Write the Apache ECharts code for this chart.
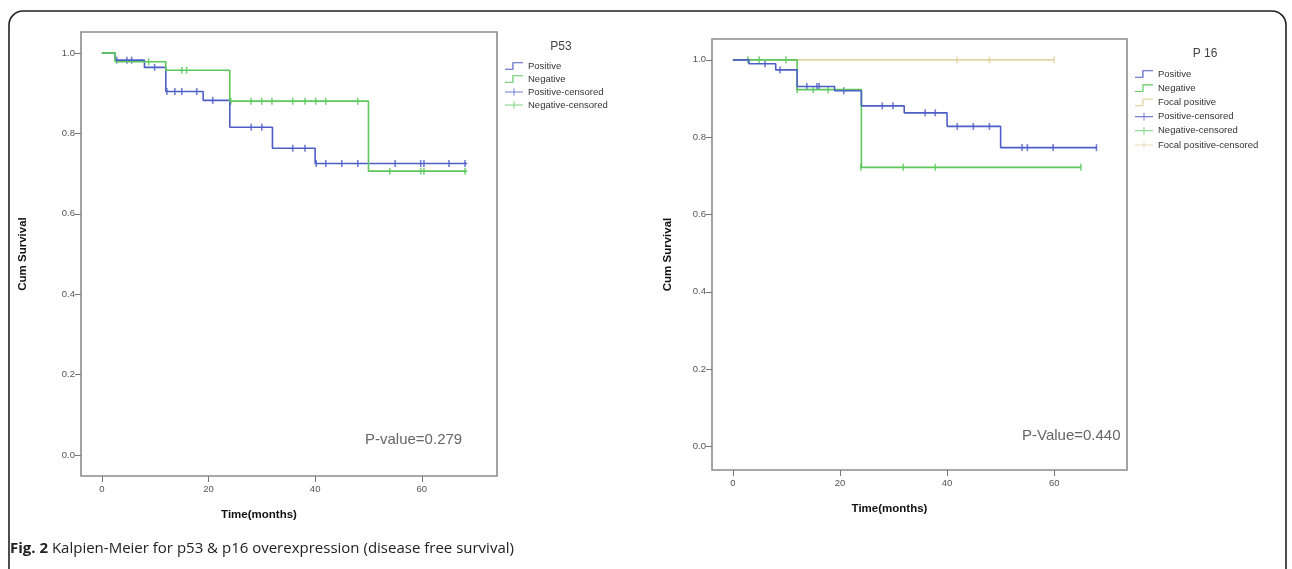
<!DOCTYPE html>
<html><head><meta charset="utf-8">
<script src="https://cdn.jsdelivr.net/npm/echarts@6/dist/echarts.min.js"></script>
<style>html,body{margin:0;padding:0;background:#fff}#c{width:1292px;height:569px}</style>
</head><body><div id="c"></div>
<script>
// ---------- P53 (left panel) ----------
var p53PosTime = [0, 2.5, 8, 12, 19, 24, 32, 40, 68.5];
var p53PosSurv = [1.0, 0.982, 0.964, 0.904, 0.882, 0.815, 0.763, 0.725, 0.725];
var p53NegTime = [0, 2.5, 12, 24, 50, 68.5];
var p53NegSurv = [1.0, 0.978, 0.957, 0.88, 0.706, 0.706];
var p53PosCensTime = [2.8, 4.7, 5.6, 9.9, 12.2, 13.7, 15.0, 17.8, 20.8, 28.0, 30.0, 35.8, 38.1, 40.2, 42.0, 45.0, 48.0, 55.0, 59.8, 60.4, 65.1, 68.1];
var p53PosCensSurv = [0.982, 0.982, 0.982, 0.964, 0.904, 0.904, 0.904, 0.904, 0.882, 0.815, 0.815, 0.763, 0.763, 0.725, 0.725, 0.725, 0.725, 0.725, 0.725, 0.725, 0.725, 0.725];
var p53NegCensTime = [8.8, 15.0, 15.9, 24.2, 28.0, 30.0, 31.9, 35.8, 38.1, 40.1, 42.0, 48.0, 54.0, 59.8, 60.4, 68.1];
var p53NegCensSurv = [0.978, 0.957, 0.957, 0.88, 0.88, 0.88, 0.88, 0.88, 0.88, 0.88, 0.88, 0.88, 0.706, 0.706, 0.706, 0.706];

// ---------- P16 (right panel) ----------
var p16PosTime = [0, 3, 8, 12, 19, 24, 32, 40, 50, 68];
var p16PosSurv = [1.0, 0.99, 0.974, 0.931, 0.92, 0.881, 0.863, 0.828, 0.773, 0.773];
var p16NegTime = [0, 12, 24, 65];
var p16NegSurv = [1.0, 0.923, 0.722, 0.722];
var p16FocTime = [0, 60];
var p16FocSurv = [1.0, 1.0];
var p16PosCensTime = [6.0, 8.8, 12.0, 13.8, 15.7, 16.1, 20.7, 27.9, 29.9, 35.9, 37.8, 41.9, 44.9, 47.9, 54.0, 55.0, 59.8, 67.9];
var p16PosCensSurv = [0.99, 0.974, 0.931, 0.931, 0.931, 0.931, 0.92, 0.881, 0.881, 0.863, 0.863, 0.828, 0.828, 0.828, 0.773, 0.773, 0.773, 0.773];
var p16NegCensTime = [2.8, 4.9, 9.9, 12.0, 15.0, 17.8, 23.9, 31.8, 37.8, 65];
var p16NegCensSurv = [1.0, 1.0, 1.0, 0.923, 0.923, 0.923, 0.722, 0.722, 0.722, 0.722];
var p16FocCensTime = [41.9, 47.9, 60];
var p16FocCensSurv = [1.0, 1.0, 1.0];

// ---------- tick labels ----------
var yTicks = [0, 0.2, 0.4, 0.6, 0.8, 1.0];
var xTicks = [0, 20, 40, 60];

var BLUE = '#4d5ec6', GREEN = '#5cc85c', TAN = '#e0d4a4';
var FONT = 'Liberation Sans, Arial, sans-serif';

function zip(a, b) { return a.map(function (v, i) { return [v, b[i]]; }); }

var stepIcon = 'path://M0,8 L9,8 L9,0 L22,0 L22,1.4 L10.4,1.4 L10.4,9.4 L0,9.4 Z';
var plusIcon = 'path://M0,4 L22,4 L22,5.4 L0,5.4 Z M10.4,0 L11.6,0 L11.6,9.4 L10.4,9.4 Z';

function xAxisCfg(gi, min, max) {
  return {
    type: 'value', gridIndex: gi, min: min, max: max, position: 'bottom',
    name: 'Time(months)', nameLocation: 'middle', nameGap: 33,
    nameTextStyle: { fontFamily: FONT, fontWeight: 'bold', fontSize: 11.5, color: '#111', padding: [0, 60, 0, 0] },
    axisLine: { show: false, onZero: false },
    axisTick: { show: true, length: 6, lineStyle: { color: '#777', width: 1 }, customValues: xTicks },
    axisLabel: { fontFamily: FONT, fontSize: 9.5, color: '#555', margin: 8, customValues: xTicks },
    splitLine: { show: false }
  };
}
function yAxisCfg(gi, min, max, gap) {
  return {
    type: 'value', gridIndex: gi, min: min, max: max, position: 'left',
    name: 'Cum Survival', nameLocation: 'middle', nameGap: gap,
    nameTextStyle: { fontFamily: FONT, fontWeight: 'bold', fontSize: 11.5, color: '#111' },
    axisLine: { show: false, onZero: false },
    axisTick: { show: true, length: 6, lineStyle: { color: '#777', width: 1 }, customValues: yTicks },
    axisLabel: { fontFamily: FONT, fontSize: 9.5, color: '#555', margin: 6, customValues: yTicks,
      formatter: function (v) { return v.toFixed(1); } },
    splitLine: { show: false }
  };
}
function stepSeries(name, t, s, color, idx) {
  return { name: name, type: 'line', step: 'end', xAxisIndex: idx, yAxisIndex: idx,
    data: zip(t, s), showSymbol: false, symbol: 'none', color: color,
    lineStyle: { color: color, width: 1.6 }, itemStyle: { color: color }, silent: true };
}
function censSeries(name, t, s, color, idx) {
  return { name: name, type: 'scatter', xAxisIndex: idx, yAxisIndex: idx,
    data: zip(t, s), symbol: 'rect', symbolSize: [1.6, 7], color: color,
    itemStyle: { color: color }, silent: true };
}

var chart = echarts.init(document.getElementById('c'), null, { renderer: 'canvas' });
chart.setOption({
  animation: false,
  backgroundColor: '#fff',
  grid: [
    { left: 81, top: 32, width: 416, height: 444, show: true, borderColor: '#8c8c8c', borderWidth: 1.6, backgroundColor: '#fff' },
    { left: 712, top: 39, width: 415, height: 431, show: true, borderColor: '#8c8c8c', borderWidth: 1.6, backgroundColor: '#fff' }
  ],
  xAxis: [xAxisCfg(0, -3.9, 74.1), xAxisCfg(1, -3.9, 73.6)],
  yAxis: [yAxisCfg(0, -0.052, 1.052, 52), yAxisCfg(1, -0.061, 1.054, 38)],
  title: [
    { text: 'P53', left: 556, top: 36, textAlign: 'center', textStyle: { fontFamily: FONT, fontSize: 12, fontWeight: 'normal', color: '#444' } },
    { text: 'P 16', left: 1200, top: 43, textAlign: 'center', textStyle: { fontFamily: FONT, fontSize: 12, fontWeight: 'normal', color: '#444' } }
  ],
  legend: [
    { orient: 'vertical', left: 500, top: 56, itemWidth: 18, itemHeight: 9, itemGap: 3, selectedMode: false,
      textStyle: { fontFamily: FONT, fontSize: 9.5, color: '#333', lineHeight: 10 },
      data: [
        { name: 'Positive', icon: stepIcon },
        { name: 'Negative', icon: stepIcon },
        { name: 'Positive-censored', icon: plusIcon },
        { name: 'Negative-censored', icon: plusIcon }
      ] },
    { orient: 'vertical', left: 1130, top: 64, itemWidth: 18, itemHeight: 9, itemGap: 4.2, selectedMode: false,
      textStyle: { fontFamily: FONT, fontSize: 9.5, color: '#333', lineHeight: 10 },
      data: [
        { name: 'Positive', icon: stepIcon },
        { name: 'Negative', icon: stepIcon },
        { name: 'Focal positive', icon: stepIcon },
        { name: 'Positive-censored', icon: plusIcon },
        { name: 'Negative-censored', icon: plusIcon },
        { name: 'Focal positive-censored', icon: plusIcon }
      ] }
  ],
  series: [
    stepSeries('Positive', p53PosTime, p53PosSurv, BLUE, 0),
    stepSeries('Negative', p53NegTime, p53NegSurv, GREEN, 0),
    censSeries('Positive-censored', p53PosCensTime, p53PosCensSurv, BLUE, 0),
    censSeries('Negative-censored', p53NegCensTime, p53NegCensSurv, GREEN, 0),
    stepSeries('Focal positive', p16FocTime, p16FocSurv, TAN, 1),
    stepSeries('Negative', p16NegTime, p16NegSurv, GREEN, 1),
    stepSeries('Positive', p16PosTime, p16PosSurv, BLUE, 1),
    censSeries('Focal positive-censored', p16FocCensTime, p16FocCensSurv, TAN, 1),
    censSeries('Negative-censored', p16NegCensTime, p16NegCensSurv, GREEN, 1),
    censSeries('Positive-censored', p16PosCensTime, p16PosCensSurv, BLUE, 1)
  ],
  graphic: [
    { type: 'rect', silent: true, z: -1, shape: { x: 9, y: 11, width: 1277, height: 640, r: 14 },
      style: { fill: null, stroke: '#222', lineWidth: 1.6 } },
    { type: 'text', left: 365, top: 432, silent: true,
      style: { text: 'P-value=0.279', fontFamily: FONT, fontSize: 15, fill: '#666' } },
    { type: 'text', left: 1022, top: 428, silent: true,
      style: { text: 'P-Value=0.440', fontFamily: FONT, fontSize: 15, fill: '#666' } },
    { type: 'text', left: 10, top: 541, silent: true,
      style: { text: '{b|Fig. 2} Kalpien-Meier for p53 & p16 overexpression (disease free survival)',
        fontFamily: 'Open Sans, sans-serif', fontSize: 15, fill: '#222',
        rich: { b: { fontFamily: 'Open Sans, sans-serif', fontSize: 15, fontWeight: 'bold', fill: '#222' } } } }
  ]
});
</script></body></html>
